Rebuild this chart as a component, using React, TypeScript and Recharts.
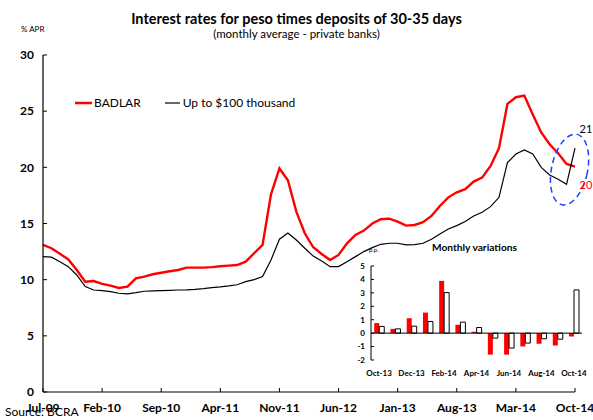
import React from 'react';
import { LineChart, Line, XAxis, YAxis, BarChart, Bar, ReferenceLine, ReferenceDot } from 'recharts';

const months = [
  'Jul-09','Aug-09','Sep-09','Oct-09','Nov-09','Dec-09',
  'Jan-10','Feb-10','Mar-10','Apr-10','May-10','Jun-10','Jul-10','Aug-10','Sep-10','Oct-10','Nov-10','Dec-10',
  'Jan-11','Feb-11','Mar-11','Apr-11','May-11','Jun-11','Jul-11','Aug-11','Sep-11','Oct-11','Nov-11','Dec-11',
  'Jan-12','Feb-12','Mar-12','Apr-12','May-12','Jun-12','Jul-12','Aug-12','Sep-12','Oct-12','Nov-12','Dec-12',
  'Jan-13','Feb-13','Mar-13','Apr-13','May-13','Jun-13','Jul-13','Aug-13','Sep-13','Oct-13','Nov-13','Dec-13',
  'Jan-14','Feb-14','Mar-14','Apr-14','May-14','Jun-14','Jul-14','Aug-14','Sep-14','Oct-14'
];

const badlar = [
  13.09, 12.8, 12.3, 11.8, 10.86, 9.82, 9.88, 9.62, 9.47, 9.26,
  9.38, 10.12, 10.27, 10.48, 10.62, 10.75, 10.86, 11.07, 11.07, 11.07,
  11.12, 11.2, 11.25, 11.3, 11.6, 12.35, 13.09, 17.6, 19.9, 18.85,
  16.06, 14.13, 12.88, 12.29, 11.75, 12.2, 13.24, 13.98, 14.37, 15.0,
  15.38, 15.43, 15.17, 14.81, 14.87, 15.11, 15.67, 16.56, 17.33, 17.78,
  18.05, 18.73, 19.08, 20.12, 21.7, 25.65, 26.24, 26.39, 24.7, 23.1,
  22.05, 21.25, 20.3, 20.06
];

const upTo100k = [
  12.05, 12.0, 11.6, 11.16, 10.42, 9.38, 9.08, 9.02, 8.93, 8.79,
  8.73, 8.84, 8.97, 9.0, 9.02, 9.05, 9.08, 9.1, 9.14, 9.2,
  9.29, 9.35, 9.44, 9.55, 9.82, 10.0, 10.27, 11.75, 13.6, 14.15,
  13.53, 12.8, 12.1, 11.66, 11.16, 11.16, 11.6, 12.05, 12.5, 12.85,
  13.15, 13.24, 13.24, 13.09, 13.12, 13.24, 13.6, 14.07, 14.51, 14.81,
  15.17, 15.67, 16.0, 16.5, 17.33, 20.42, 21.19, 21.55, 21.19, 20.0,
  19.32, 18.94, 18.49, 21.7
];

const mainTicks = [0, 7, 14, 21, 28, 35, 42, 49, 56, 63];
const yTicks = [0, 5, 10, 15, 20, 25, 30];

const insetMonths = ['Oct-13','Nov-13','Dec-13','Jan-14','Feb-14','Mar-14','Apr-14','May-14','Jun-14','Jul-14','Aug-14','Sep-14','Oct-14'];
const badlarVar = [0.75, 0.32, 1.11, 1.53, 3.89, 0.62, 0.1, -1.6, -1.6, -0.99, -0.79, -0.92, -0.25];
const upTo100kVar = [0.5, 0.32, 0.52, 0.87, 3.02, 0.82, 0.42, -0.37, -1.11, -0.74, -0.42, -0.45, 3.22];
const insetYTicks = [-2, -1, 0, 1, 2, 3, 4, 5];

const W = 593;
const H = 420;
const FONT = 'Lato, "DejaVu Sans", sans-serif';

export default function App() {
  const data = months.map((m, i) => ({ idx: i, month: m, badlar: badlar[i], small: upTo100k[i] }));
  const insetData = insetMonths.map((m, i) => ({ month: m, badlar: badlarVar[i], small: upTo100kVar[i] }));
  const tickStyle = { fontFamily: FONT, fontSize: 12, fontWeight: 700, fill: '#000' };
  const insetTickStyle = { fontFamily: FONT, fontSize: 8, fontWeight: 700, fill: '#000' };

  return (
    <div style={{ position: 'absolute', left: 0, top: 0, width: W, height: H, background: '#fff', overflow: 'hidden', fontFamily: FONT }}>
      <div style={{ position: 'absolute', left: 0, top: 0 }}>
        <LineChart width={W} height={H} data={data} margin={{ top: 55, right: 18, bottom: 0, left: 0 }}>
          <XAxis
            dataKey="idx"
            type="number"
            domain={[0, 63]}
            ticks={mainTicks}
            tickFormatter={(v: number) => months[v]}
            height={28}
            axisLine={{ stroke: '#000', strokeWidth: 1.2 }}
            tickLine={{ stroke: '#000' }}
            tickSize={-4}
            tickMargin={15}
            tick={tickStyle}
            interval={0}
          />
          <YAxis
            type="number"
            domain={[0, 30]}
            ticks={yTicks}
            width={43}
            axisLine={{ stroke: '#000', strokeWidth: 1.2 }}
            tickLine={{ stroke: '#000' }}
            tickSize={-4}
            tickMargin={13}
            tick={tickStyle}
            interval={0}
          />
          <Line dataKey="badlar" stroke="#ff0000" strokeWidth={2.4} dot={false} isAnimationActive={false} />
          <Line dataKey="small" stroke="#000" strokeWidth={1.2} dot={false} isAnimationActive={false} />
          <ReferenceDot
            x={62}
            y={19.8}
            ifOverflow="visible"
            shape={(p: any) => (
              <ellipse
                cx={p.cx + 3}
                cy={p.cy}
                rx={18}
                ry={36}
                fill="none"
                stroke="#1f3fff"
                strokeWidth={1.5}
                strokeDasharray="6 4"
                transform={`rotate(12 ${p.cx + 3} ${p.cy})`}
              />
            )}
          />
          <ReferenceDot
            x={63}
            y={upTo100k[63]}
            ifOverflow="visible"
            shape={(p: any) => (
              <text x={p.cx + 11} y={p.cy - 15} textAnchor="middle" fontFamily={FONT} fontSize={11} fill="#000">21</text>
            )}
          />
          <ReferenceDot
            x={63}
            y={badlar[63]}
            ifOverflow="visible"
            shape={(p: any) => (
              <text x={p.cx + 11} y={p.cy + 22} textAnchor="middle" fontFamily={FONT} fontSize={11} fill="#ff0000">20</text>
            )}
          />
        </LineChart>
      </div>

      <div style={{ position: 'absolute', left: 75, top: 96, display: 'flex', alignItems: 'center', fontSize: 12, lineHeight: '14px', color: '#000' }}>
        <svg width={17} height={6}><line x1={0} y1={3} x2={17} y2={3} stroke="#ff0000" strokeWidth={2.5} /></svg>
        <span style={{ marginLeft: 2, marginRight: 24 }}>BADLAR</span>
        <svg width={15} height={6}><line x1={0} y1={3} x2={15} y2={3} stroke="#000" strokeWidth={1.2} /></svg>
        <span style={{ marginLeft: 3 }}>Up to $100 thousand</span>
      </div>

      <div style={{ position: 'absolute', left: 0, top: 12, width: W, textAlign: 'center', fontWeight: 700, fontSize: 14.5, lineHeight: '14px' }}>
        Interest rates for peso times deposits of 30-35 days
      </div>
      <div style={{ position: 'absolute', left: 0, top: 28, width: W, textAlign: 'center', fontSize: 11.5, lineHeight: '12px' }}>
        (monthly average - private banks)
      </div>
      <div style={{ position: 'absolute', left: 21, top: 25, fontSize: 8, lineHeight: '8px' }}>% APR</div>
      <div style={{ position: 'absolute', left: 5, top: 406, fontSize: 12, lineHeight: '12px' }}>Source: BCRA</div>

      <div style={{ position: 'absolute', left: 340, top: 240 }}>
        <BarChart width={250} height={150} data={insetData} margin={{ top: 26, right: 8, bottom: 0, left: 0 }} barCategoryGap="20%" barGap={0}>
          <XAxis
            dataKey="month"
            height={30}
            axisLine={false}
            tickLine={false}
            tickSize={6}
            tickMargin={4}
            interval={1}
            tick={insetTickStyle}
          />
          <YAxis
            type="number"
            domain={[-2, 5]}
            ticks={insetYTicks}
            width={31}
            axisLine={{ stroke: '#000' }}
            tickLine={{ stroke: '#000' }}
            tickSize={-3}
            tickMargin={9}
            tick={insetTickStyle}
            interval={0}
          />
          <ReferenceLine y={0} stroke="#000" strokeWidth={1} />
          <Bar dataKey="badlar" fill="#ff0000" isAnimationActive={false} />
          <Bar dataKey="small" fill="#fff" stroke="#000" strokeWidth={1} isAnimationActive={false} />
        </BarChart>
      </div>
      <div style={{ position: 'absolute', left: 432, top: 242, fontSize: 10.2, fontWeight: 700, lineHeight: '10px' }}>Monthly variations</div>
      <div style={{ position: 'absolute', left: 369, top: 247, fontSize: 6, lineHeight: '6px' }}>p.p.</div>
    </div>
  );
}
